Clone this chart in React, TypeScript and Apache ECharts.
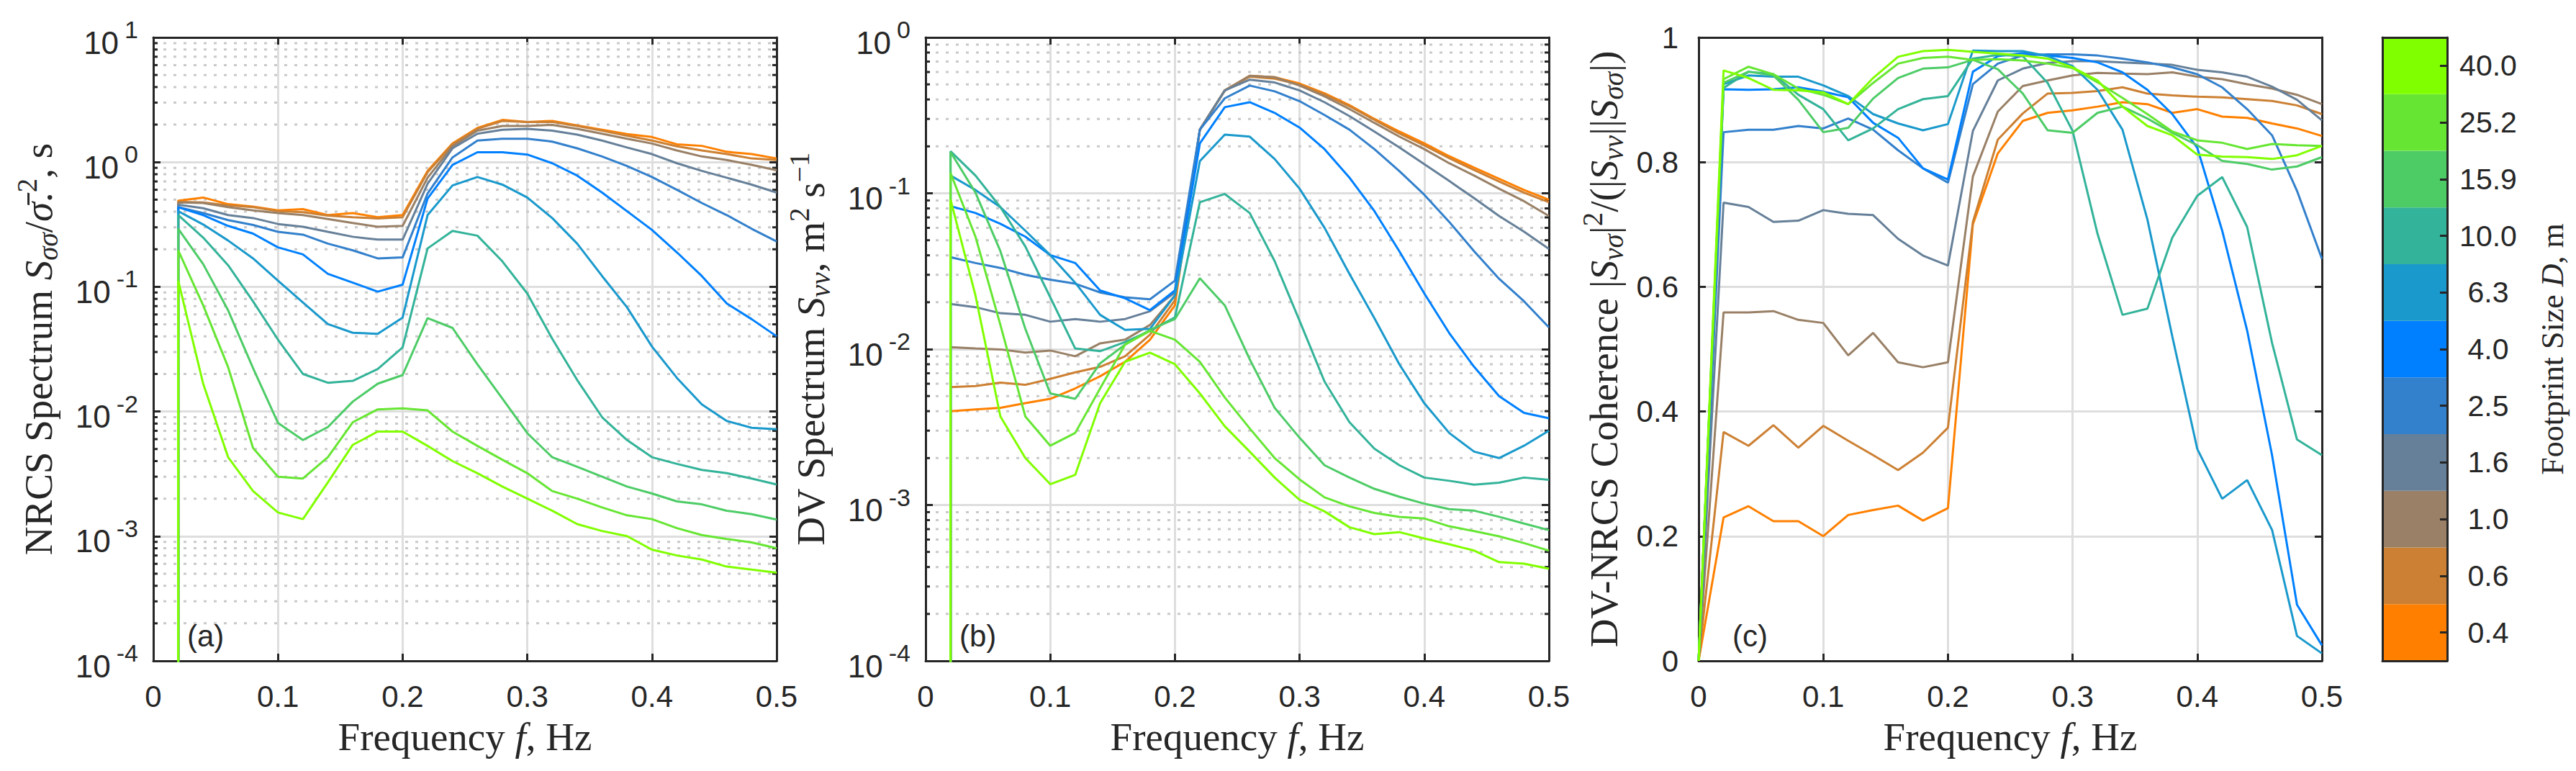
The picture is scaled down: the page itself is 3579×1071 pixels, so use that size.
import React, { useEffect, useRef } from 'react';
import * as echarts from 'echarts';

// ---------------- data ----------------
const FREQ = [0.02, 0.04, 0.06, 0.08, 0.1, 0.12, 0.14, 0.16, 0.18, 0.2, 0.22, 0.24, 0.26, 0.28, 0.3, 0.32, 0.34, 0.36, 0.38, 0.4, 0.42, 0.44, 0.46, 0.48, 0.5];
const COH_FREQ = [0, ...FREQ];
const SPEC_FLOOR = 1e-6; // value below the log-axis minimum (spectra drop at the first bin)

const FOOTPRINT = ['0.4', '0.6', '1.0', '1.6', '2.5', '4.0', '6.3', '10.0', '15.9', '25.2', '40.0'];
const COLORS = ['#FF8000', '#CC8033', '#998066', '#668099', '#3380CC', '#0080FF', '#1A99CC', '#33B399', '#4DCC66', '#66E633', '#80FF00'];
const CB_FILL = 1;

const X_TICKS = [0, 0.1, 0.2, 0.3, 0.4, 0.5];
const DECADES = [1e-4, 1e-3, 1e-2, 1e-1, 1];
const MINOR_MULT = [2, 3, 4, 5, 6, 7, 8, 9];

// Panel (a) NRCS spectrum
const NRCS_D04 = [0.49, 0.52, 0.46, 0.44, 0.41, 0.42, 0.376, 0.39, 0.362, 0.376, 0.85, 1.41, 1.88, 2.18, 2.10, 2.14, 1.97, 1.82, 1.68, 1.59, 1.39, 1.35, 1.21, 1.16, 1.07];
const NRCS_D06 = [0.48, 0.475, 0.45, 0.435, 0.404, 0.397, 0.372, 0.362, 0.353, 0.362, 0.83, 1.39, 1.85, 2.14, 2.10, 2.10, 1.95, 1.79, 1.63, 1.49, 1.34, 1.24, 1.16, 1.07, 1.04];
const NRCS_D10 = [0.475, 0.47, 0.435, 0.41, 0.39, 0.376, 0.35, 0.325, 0.303, 0.308, 0.75, 1.34, 1.79, 1.95, 1.95, 1.99, 1.85, 1.69, 1.54, 1.41, 1.24, 1.11, 1.04, 0.95, 0.86];
const NRCS_D16 = [0.455, 0.427, 0.376, 0.356, 0.319, 0.303, 0.276, 0.252, 0.239, 0.239, 0.67, 1.29, 1.69, 1.82, 1.85, 1.79, 1.66, 1.49, 1.31, 1.16, 0.98, 0.85, 0.75, 0.66, 0.57];
const NRCS_D25 = [0.435, 0.39, 0.343, 0.313, 0.276, 0.262, 0.222, 0.196, 0.169, 0.172, 0.56, 1.09, 1.49, 1.54, 1.54, 1.46, 1.29, 1.11, 0.93, 0.76, 0.60, 0.47, 0.376, 0.292, 0.231];
const NRCS_D40 = [0.435, 0.376, 0.308, 0.267, 0.207, 0.182, 0.127, 0.108, 0.0915, 0.104, 0.51, 0.95, 1.20, 1.20, 1.15, 0.98, 0.78, 0.57, 0.404, 0.286, 0.189, 0.122, 0.0736, 0.055, 0.0401];
const NRCS_D63 = [0.404, 0.316, 0.235, 0.169, 0.112, 0.075, 0.0503, 0.0428, 0.042, 0.0566, 0.376, 0.65, 0.76, 0.66, 0.52, 0.356, 0.222, 0.122, 0.0685, 0.0332, 0.0186, 0.0114, 0.0084, 0.0074, 0.0072];
const NRCS_D100 = [0.376, 0.248, 0.149, 0.0764, 0.0377, 0.02, 0.017, 0.0176, 0.0219, 0.0326, 0.203, 0.281, 0.257, 0.16, 0.0883, 0.0383, 0.0179, 0.009, 0.0059, 0.0043, 0.0038, 0.0034, 0.0032, 0.0029, 0.0026];
const NRCS_D159 = [0.292, 0.152, 0.0648, 0.0223, 0.0081, 0.0059, 0.0075, 0.012, 0.0167, 0.0196, 0.0561, 0.0468, 0.0239, 0.0127, 0.0067, 0.0043, 0.0036, 0.003, 0.0025, 0.0022, 0.0019, 0.0018, 0.0016, 0.0015, 0.00136];
const NRCS_D252 = [0.196, 0.071, 0.0227, 0.0051, 0.003, 0.0029, 0.0043, 0.0082, 0.0104, 0.0106, 0.0102, 0.0069, 0.0053, 0.0041, 0.0032, 0.0023, 0.002, 0.0017, 0.00147, 0.00137, 0.00116, 0.00102, 0.00095, 0.00089, 0.0008];
const NRCS_D400 = [0.112, 0.0167, 0.0043, 0.0023, 0.00155, 0.00137, 0.0027, 0.0054, 0.0069, 0.0069, 0.0053, 0.004, 0.0032, 0.0025, 0.002, 0.0016, 0.00125, 0.0011, 0.001, 0.00078, 0.0007, 0.00065, 0.00057, 0.00054, 0.00051];

// Panel (b) DV spectrum
const DV_D04 = [0.004, 0.0041, 0.0042, 0.0045, 0.0048, 0.0056, 0.0067, 0.0083, 0.0115, 0.0191, 0.256, 0.457, 0.568, 0.556, 0.506, 0.438, 0.368, 0.3, 0.249, 0.209, 0.173, 0.146, 0.124, 0.105, 0.091];
const DV_D06 = [0.0057, 0.0058, 0.0061, 0.0059, 0.00645, 0.0071, 0.0077, 0.009, 0.0124, 0.0206, 0.256, 0.457, 0.56, 0.544, 0.499, 0.431, 0.362, 0.296, 0.242, 0.203, 0.168, 0.141, 0.119, 0.101, 0.0877];
const DV_D10 = [0.0103, 0.0101, 0.00996, 0.0095, 0.0098, 0.009, 0.0109, 0.0115, 0.0143, 0.0221, 0.256, 0.457, 0.568, 0.556, 0.491, 0.419, 0.347, 0.283, 0.231, 0.192, 0.156, 0.13, 0.107, 0.089, 0.0715];
const DV_D16 = [0.0195, 0.0186, 0.017, 0.0166, 0.015, 0.0156, 0.015, 0.0156, 0.0175, 0.0231, 0.256, 0.457, 0.536, 0.514, 0.457, 0.384, 0.313, 0.249, 0.197, 0.154, 0.12, 0.093, 0.0715, 0.0567, 0.044];
const DV_D25 = [0.0389, 0.0357, 0.0332, 0.03, 0.0279, 0.0263, 0.0231, 0.0215, 0.0209, 0.0275, 0.256, 0.407, 0.491, 0.451, 0.39, 0.318, 0.256, 0.192, 0.139, 0.098, 0.0656, 0.0425, 0.0283, 0.0203, 0.0138];
const DV_D40 = [0.0827, 0.0747, 0.0637, 0.0527, 0.0401, 0.0357, 0.0238, 0.0212, 0.0178, 0.0238, 0.209, 0.357, 0.384, 0.328, 0.264, 0.192, 0.126, 0.0769, 0.0425, 0.0228, 0.0127, 0.0077, 0.005, 0.0039, 0.0036];
const DV_D63 = [0.13, 0.105, 0.0815, 0.0575, 0.0401, 0.0267, 0.0166, 0.0133, 0.0135, 0.0221, 0.161, 0.238, 0.231, 0.166, 0.107, 0.0601, 0.0304, 0.0158, 0.008, 0.0045, 0.0029, 0.0022, 0.002, 0.0024, 0.003];
const DV_D100 = [0.186, 0.13, 0.0815, 0.0456, 0.0215, 0.0101, 0.0097, 0.0111, 0.0131, 0.016, 0.0877, 0.099, 0.0747, 0.0367, 0.0152, 0.0062, 0.0034, 0.0023, 0.0018, 0.0015, 0.00143, 0.00135, 0.00139, 0.0015, 0.00145];
const DV_D159 = [0.184, 0.101, 0.0425, 0.0135, 0.0052, 0.0048, 0.0081, 0.0107, 0.0133, 0.0156, 0.0285, 0.0191, 0.0086, 0.0042, 0.0027, 0.0018, 0.0015, 0.00127, 0.00113, 0.00102, 0.00094, 0.00092, 0.00084, 0.00076, 0.00069];
const DV_D252 = [0.135, 0.0527, 0.0143, 0.0037, 0.0024, 0.0029, 0.0056, 0.0107, 0.0131, 0.0115, 0.0083, 0.0049, 0.0031, 0.002, 0.00146, 0.00112, 0.00098, 0.00089, 0.00084, 0.00082, 0.00073, 0.00068, 0.00063, 0.00057, 0.00051];
const DV_D400 = [0.091, 0.0221, 0.0037, 0.002, 0.00136, 0.00156, 0.0045, 0.0083, 0.0095, 0.008, 0.0052, 0.0032, 0.0022, 0.0015, 0.00108, 0.00091, 0.00072, 0.00065, 0.00067, 0.00061, 0.00056, 0.00051, 0.00043, 0.00042, 0.00039];

// Panel (c) DV-NRCS coherence (first value at f = 0)
const COH_D04 = [0, 0.23, 0.248, 0.224, 0.224, 0.2, 0.234, 0.242, 0.249, 0.225, 0.245, 0.70, 0.814, 0.866, 0.879, 0.883, 0.889, 0.896, 0.893, 0.879, 0.885, 0.873, 0.871, 0.862, 0.854, 0.842];
const COH_D06 = [0, 0.367, 0.345, 0.378, 0.342, 0.377, 0.353, 0.33, 0.306, 0.334, 0.374, 0.704, 0.836, 0.878, 0.91, 0.911, 0.914, 0.92, 0.91, 0.907, 0.905, 0.904, 0.901, 0.898, 0.891, 0.877];
const COH_D10 = [0, 0.559, 0.559, 0.561, 0.547, 0.542, 0.49, 0.526, 0.479, 0.471, 0.479, 0.777, 0.881, 0.922, 0.931, 0.939, 0.943, 0.942, 0.941, 0.944, 0.937, 0.933, 0.925, 0.918, 0.908, 0.893];
const COH_D16 = [0, 0.735, 0.728, 0.704, 0.706, 0.723, 0.717, 0.715, 0.677, 0.65, 0.634, 0.85, 0.931, 0.95, 0.959, 0.962, 0.962, 0.96, 0.958, 0.956, 0.948, 0.944, 0.937, 0.921, 0.9, 0.867];
const COH_D25 = [0, 0.848, 0.852, 0.852, 0.858, 0.854, 0.87, 0.852, 0.819, 0.79, 0.767, 0.925, 0.958, 0.971, 0.973, 0.973, 0.971, 0.966, 0.96, 0.952, 0.941, 0.92, 0.885, 0.843, 0.754, 0.645];
const COH_D40 = [0, 0.917, 0.916, 0.917, 0.92, 0.913, 0.904, 0.863, 0.839, 0.79, 0.772, 0.945, 0.97, 0.975, 0.971, 0.967, 0.96, 0.944, 0.916, 0.877, 0.823, 0.69, 0.53, 0.33, 0.09, 0.025];
const COH_D63 = [0, 0.925, 0.939, 0.937, 0.937, 0.923, 0.906, 0.877, 0.862, 0.851, 0.861, 0.979, 0.978, 0.978, 0.97, 0.954, 0.916, 0.852, 0.708, 0.52, 0.34, 0.26, 0.29, 0.21, 0.04, 0.012];
const COH_D100 = [0, 0.919, 0.945, 0.941, 0.908, 0.885, 0.835, 0.854, 0.885, 0.901, 0.906, 0.966, 0.972, 0.97, 0.927, 0.85, 0.685, 0.555, 0.565, 0.679, 0.746, 0.776, 0.696, 0.51, 0.355, 0.33];
const COH_D159 = [0, 0.927, 0.945, 0.939, 0.9, 0.848, 0.855, 0.902, 0.935, 0.95, 0.952, 0.964, 0.949, 0.91, 0.851, 0.847, 0.879, 0.889, 0.87, 0.847, 0.827, 0.802, 0.797, 0.788, 0.793, 0.808];
const COH_D252 = [0, 0.933, 0.953, 0.941, 0.918, 0.908, 0.893, 0.927, 0.958, 0.967, 0.969, 0.964, 0.965, 0.963, 0.958, 0.951, 0.928, 0.903, 0.877, 0.849, 0.835, 0.831, 0.821, 0.829, 0.827, 0.826];
const COH_D400 = [0, 0.947, 0.935, 0.916, 0.915, 0.912, 0.893, 0.935, 0.969, 0.978, 0.98, 0.977, 0.974, 0.971, 0.966, 0.952, 0.931, 0.889, 0.858, 0.843, 0.812, 0.809, 0.808, 0.805, 0.811, 0.826];

const NRCS = [NRCS_D04, NRCS_D06, NRCS_D10, NRCS_D16, NRCS_D25, NRCS_D40, NRCS_D63, NRCS_D100, NRCS_D159, NRCS_D252, NRCS_D400];
const DV = [DV_D04, DV_D06, DV_D10, DV_D16, DV_D25, DV_D40, DV_D63, DV_D100, DV_D159, DV_D252, DV_D400];
const COH = [COH_D04, COH_D06, COH_D10, COH_D16, COH_D25, COH_D40, COH_D63, COH_D100, COH_D159, COH_D252, COH_D400];

// ---------------- styling ----------------
const AX = '#262626';
const GRID_C = '#DEDEDE';
const MINOR_C = '#C9C9C9';
const SANS = 'Liberation Sans';
const SERIF = 'Liberation Serif';

const PANEL_LEFT = [213, 1286, 2360];
const PANEL_TOP = 52;
const PANEL_SIZE = 866;

const nameRich = (fs: number) => ({
  t: { fontFamily: SERIF, fontSize: fs, color: AX },
  i: { fontFamily: SERIF, fontSize: fs, fontStyle: 'italic', color: AX },
  sub: { fontFamily: SERIF, fontSize: Math.round(fs * 0.7), fontStyle: 'italic', color: AX, padding: [26, 0, 0, 0] },
  sup: { fontFamily: SERIF, fontSize: Math.round(fs * 0.7), color: AX, padding: [0, 0, 32, 0] },
});

const axisLine = { show: true, onZero: false, lineStyle: { color: AX, width: 3 } };
const axisTick = { show: true, inside: true, length: 10, lineStyle: { color: AX, width: 3 } };
const splitLine = { show: true, lineStyle: { color: GRID_C, width: 3 } };

const fmtX = (v: number) => (Math.abs(v) < 1e-9 ? '0' : v.toFixed(1));
const fmtLog = (v: number) => `{b|10}{s|${Math.round(Math.log10(v))}}`;
const fmtLin = (v: number) => (Math.abs(v) < 1e-9 ? '0' : Math.abs(v - 1) < 1e-9 ? '1' : v.toFixed(1));

const logRich = {
  b: { fontFamily: SANS, fontSize: 44, color: AX, padding: [14, 0, 0, 0] },
  s: { fontFamily: SANS, fontSize: 34, color: AX, padding: [0, 0, 22, 8] },
};

const MINOR_VALUES: number[] = [];
DECADES.forEach((d) => MINOR_MULT.forEach((m) => MINOR_VALUES.push(m * d)));

function buildOption() {
  const grid: any[] = PANEL_LEFT.map((left) => ({ left, top: PANEL_TOP, width: PANEL_SIZE, height: PANEL_SIZE, containLabel: false }));
  grid.push({ left: 3310, top: PANEL_TOP, width: 90, height: PANEL_SIZE, containLabel: false });

  const xAxis: any[] = [];
  const yAxis: any[] = [];
  const series: any[] = [];

  const xNameRich = nameRich(55);
  for (let p = 0; p < 3; p++) {
    xAxis.push({
      type: 'value', gridIndex: p, min: X_TICKS[0], max: X_TICKS[X_TICKS.length - 1], interval: 0.1, position: 'bottom',
      axisLine, axisTick,
      axisLabel: { show: true, margin: 28, fontSize: 42, fontFamily: SANS, color: AX, formatter: fmtX },
      splitLine,
      name: '{t|Frequency }{i|f}{t|, Hz}', nameLocation: 'middle', nameGap: 78,
      nameTextStyle: { rich: xNameRich, fontFamily: SERIF, fontSize: 55, color: AX },
    });
    xAxis.push({
      type: 'value', gridIndex: p, min: X_TICKS[0], max: X_TICKS[X_TICKS.length - 1], interval: 0.1, position: 'top',
      axisLine, axisTick, axisLabel: { show: false }, splitLine: { show: false },
    });
  }

  const yNames = [
    '{t|NRCS Spectrum }{i|S}{sub|σσ}{t|/}{i|σ\u0304}{t|.}{sup|2}{t|, s}',
    '{t|DV Spectrum }{i|S}{sub|vv}{t|, m}{sup|2}{t| s}{sup|\u22121}',
    '{t|DV-NRCS Coherence |}{i|S}{sub|vσ}{t||}{sup|2}{t|/(|}{i|S}{sub|vv}{t|||}{i|S}{sub|σσ}{t||)}',
  ];
  const yGaps = [124, 124, 96];
  const logMax = [10, 1];

  for (let p = 0; p < 3; p++) {
    const isLog = p < 2;
    const base: any = isLog
      ? { type: 'log', logBase: 10, min: DECADES[0], max: logMax[p] }
      : { type: 'value', min: 0, max: 1, interval: 0.2 };
    yAxis.push({
      ...base, gridIndex: p, position: 'left', axisLine, axisTick,
      axisLabel: isLog
        ? { show: true, margin: 21, formatter: fmtLog, rich: logRich, color: AX }
        : { show: true, margin: 28, fontSize: 42, fontFamily: SANS, color: AX, formatter: fmtLin },
      splitLine,
      name: yNames[p], nameLocation: 'middle', nameRotate: 90, nameGap: yGaps[p],
      nameTextStyle: { rich: nameRich(55), fontFamily: SERIF, fontSize: 55, color: AX },
    });
    yAxis.push({
      ...base, gridIndex: p, position: 'right', axisLine, axisTick,
      axisLabel: { show: false }, splitLine: { show: false },
    });
  }

  // colorbar axes
  xAxis.push({ type: 'value', gridIndex: 3, min: 0, max: CB_FILL, position: 'bottom', z: 5, axisLine, axisTick: { show: false }, axisLabel: { show: false }, splitLine: { show: false } });
  xAxis.push({ type: 'value', gridIndex: 3, min: 0, max: CB_FILL, position: 'top', z: 5, axisLine, axisTick: { show: false }, axisLabel: { show: false }, splitLine: { show: false } });
  yAxis.push({ type: 'category', gridIndex: 3, data: FOOTPRINT, position: 'left', z: 5, axisLine, axisTick: { show: false }, axisLabel: { show: false }, splitLine: { show: false } });
  yAxis.push({
    type: 'category', gridIndex: 3, data: FOOTPRINT, position: 'right', z: 5, axisLine,
    axisTick: { show: true, inside: true, alignWithLabel: true, length: 10, lineStyle: { color: AX, width: 3 } },
    axisLabel: { show: true, margin: 57, align: 'center', fontSize: 41, fontFamily: SANS, color: AX },
    splitLine: { show: false },
    name: '{t|Footprint Size }{i|D}{t|, m}', nameLocation: 'middle', nameRotate: 90, nameGap: 124,
    nameTextStyle: { rich: nameRich(44), fontFamily: SERIF, fontSize: 44, color: AX },
  });

  // minor grid + minor ticks on log panels
  for (let p = 0; p < 2; p++) {
    series.push({
      type: 'custom', xAxisIndex: p * 2, yAxisIndex: p * 2, z: 1, silent: true,
      data: MINOR_VALUES.filter((v) => v < logMax[p]).map((v) => [0, v]),
      encode: { x: 0, y: 1 },
      renderItem: (params: any, api: any) => {
        const cs = params.coordSys;
        const y = api.coord([0, api.value(1)])[1];
        return {
          type: 'group',
          children: [
            { type: 'line', shape: { x1: cs.x + 14, y1: y, x2: cs.x + cs.width - 4, y2: y }, style: { stroke: MINOR_C, lineWidth: 3, lineDash: [4, 10] } },
            { type: 'line', shape: { x1: cs.x, y1: y, x2: cs.x + 6, y2: y }, style: { stroke: AX, lineWidth: 3 } },
            { type: 'line', shape: { x1: cs.x + cs.width - 6, y1: y, x2: cs.x + cs.width, y2: y }, style: { stroke: AX, lineWidth: 3 } },
          ],
        };
      },
    });
  }

  const line = (data: number[][], xi: number, yi: number, i: number) => ({
    type: 'line', name: FOOTPRINT[i], xAxisIndex: xi, yAxisIndex: yi, data,
    showSymbol: false, symbol: 'none', silent: true, z: 3,
    lineStyle: { color: COLORS[i], width: 3 }, itemStyle: { color: COLORS[i] },
  });

  NRCS.forEach((vals, i) => series.push(line([[FREQ[0], SPEC_FLOOR], ...FREQ.map((f, k) => [f, vals[k]])], 0, 0, i)));
  DV.forEach((vals, i) => series.push(line([[FREQ[0], SPEC_FLOOR], ...FREQ.map((f, k) => [f, vals[k]])], 2, 2, i)));
  COH.forEach((vals, i) => series.push(line(COH_FREQ.map((f, k) => [f, vals[k]]), 4, 4, i)));

  series.push({
    type: 'bar', xAxisIndex: 6, yAxisIndex: 6, barWidth: '100%', silent: true, z: 2,
    data: FOOTPRINT.map((_, i) => ({ value: CB_FILL, itemStyle: { color: COLORS[i] } })),
  });

  const panelTags = ['(a)', '(b)', '(c)'];
  const graphic = panelTags.map((t, p) => ({
    type: 'text', x: PANEL_LEFT[p] + 47, y: 883, z: 10,
    style: { text: t, fontSize: 42, fontFamily: SANS, fill: AX, verticalAlign: 'middle', align: 'left' },
  }));

  return {
    animation: false,
    backgroundColor: '#ffffff',
    textStyle: { fontFamily: SANS },
    grid, xAxis, yAxis, series, graphic,
  };
}

export default function App() {
  const ref = useRef<HTMLDivElement>(null);
  useEffect(() => {
    if (!ref.current) return;
    const chart = echarts.init(ref.current, null, { renderer: 'svg' });
    chart.setOption(buildOption() as any);
    return () => chart.dispose();
  }, []);
  return <div ref={ref} style={{ position: 'fixed', left: 0, top: 0, width: 3579, height: 1071, background: '#fff' }} />;
}
